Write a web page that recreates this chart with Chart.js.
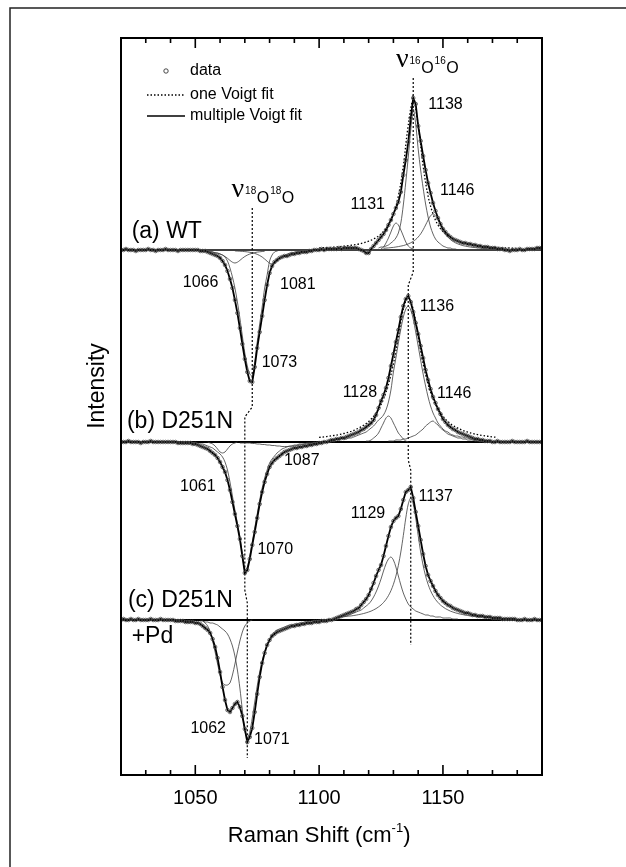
<!DOCTYPE html>
<html>
<head>
<meta charset="utf-8">
<title>Raman difference spectra, O2 isotopes</title>
<script src="https://cdn.jsdelivr.net/npm/chart.js@4.4.1/dist/chart.umd.min.js"></script>
<style>
  html, body { margin: 0; padding: 0; background: #fff; }
  canvas { display: block; }
</style>
</head>
<body>
<canvas id="ramanChart" width="626" height="867"></canvas>
<script>
// ------------------------------------------------------------------
//  Spectra (difference spectra, arbitrary intensity units)
//  sampled every 1 cm-1 from 1020 to 1190
// ------------------------------------------------------------------
const SHIFT_START = 1020;

const specWT = [
  0, 0, 1, 0, 0, 0, -1, 0, 0, 0,
  0, 1, 0, 0, -1, 0, 0, 0, 1, 0,
  0, 0, 0, -1, 0, 0, 0, 0, 0, 0,
  0, 0, -1, -1, -1, -2, -3, -4, -5, -6,
  -8, -11, -15, -21, -29, -38, -50, -63, -78, -94,
  -109, -122, -131, -132, -117, -98, -82, -66, -50, -35,
  -23, -16, -12, -10, -8, -7, -6, -6, -5, -4,
  -4, -3, -3, -2, -2, -2, -1, -1, 0, 0,
  0, 1, 0, 1, 1, 1, 1, 1, 2, 1,
  2, 2, 2, 2, 2, 2, 1, 0, -1, -3,
  -3, 1, 4, 7, 10, 13, 16, 20, 25, 30,
  36, 42, 48, 58, 75, 90, 108, 132, 152, 146,
  124, 109, 94, 80, 67, 57, 47, 39, 32, 26,
  21, 18, 15, 13, 11, 10, 9, 8, 7, 7,
  6, 6, 5, 5, 4, 4, 3, 3, 3, 2,
  2, 2, 1, 1, 1, 0, 0, -1, 0, 0,
  0, 1, 0, 0, 1, 1, 1, 1, 2, 2, 2
];

const specD251N = [
  0, 0, 0, 1, 0, 0, 0, 0, -1, 0,
  0, 0, 1, 0, 0, 0, 0, 0, 0, 0,
  0, 0, 0, -1, -1, -1, -1, -1, -1, -2,
  -2, -3, -4, -5, -6, -7, -9, -11, -13, -16,
  -20, -25, -30, -38, -48, -60, -72, -84, -97, -114,
  -131, -128, -117, -103, -90, -76, -62, -50, -40, -32,
  -25, -21, -18, -16, -14, -12, -10, -9, -8, -7,
  -6, -6, -5, -5, -4, -4, -3, -3, -2, -2,
  -1, -1, 0, 0, 1, 2, 2, 3, 3, 4,
  4, 5, 6, 7, 8, 9, 10, 12, 13, 15,
  17, 19, 22, 27, 34, 41, 47, 54, 64, 76,
  88, 100, 112, 125, 136, 143, 146, 140, 130, 119,
  108, 96, 84, 72, 62, 53, 45, 39, 33, 28,
  23, 20, 17, 15, 13, 12, 10, 9, 8, 7,
  6, 5, 4, 3, 3, 2, 2, 1, 1, 1,
  0, 0, 1, 0, 0, 0, 0, 0, 1, 0,
  0, 0, 0, 0, 1, 0, 0, 0, 0, 0, 0
];

const specD251NPd = [
  0, 1, 0, 0, 1, 0, 0, 1, 0, 0,
  0, 0, 1, 0, 0, 0, 1, 0, 0, 0,
  0, 0, -1, -1, -1, -1, -2, -2, -2, -2,
  -3, -3, -4, -6, -8, -10, -13, -19, -27, -38,
  -52, -67, -80, -90, -92, -88, -84, -82, -87, -96,
  -109, -122, -117, -108, -92, -74, -57, -43, -33, -25,
  -20, -16, -14, -12, -11, -10, -9, -8, -7, -6,
  -6, -5, -5, -4, -4, -3, -3, -3, -2, -2,
  -2, -1, -1, -1, 0, 0, 1, 2, 3, 4,
  5, 6, 7, 8, 9, 11, 12, 15, 18, 21,
  25, 31, 37, 44, 50, 55, 64, 74, 84, 93,
  99, 102, 104, 111, 120, 128, 130, 133, 122, 108,
  94, 80, 66, 54, 45, 39, 34, 29, 25, 22,
  19, 17, 15, 14, 12, 11, 10, 9, 8, 7,
  7, 6, 5, 5, 4, 4, 4, 3, 3, 3,
  2, 2, 2, 2, 1, 1, 1, 1, 1, 1,
  0, 0, 0, 1, 0, 0, 0, 1, 0, 0, 0
];

// vertical stacking of the three traces
const OFFSET_WT = 525;
const OFFSET_D251N = 333;
const OFFSET_PD = 155;

// single Voigt fits of the 16O16O band, sampled every 2 cm-1 from 1100
const oneVoigtWT = [2.1, 2.3, 2.6, 2.9, 3.3, 3.8, 4.4, 5.1, 6, 7.2, 8.8, 11, 14, 18.5, 25, 36, 54, 84, 125,
  150, 125, 84, 54, 36, 25, 18.5, 14, 11, 8.8, 7.2, 6, 5.1, 4.4, 3.8, 3.3, 2.9, 2.6, 2.3, 2.1, 1.9, 1.7];
const oneVoigtD251N = [4.6, 5.1, 5.75, 6.5, 7.4, 8.5, 9.9, 11.6, 13.9, 16.7, 20.5, 25.7, 32.9, 43, 57.7, 78.3, 105, 132.5,
  145, 132.5, 105, 78.3, 57.7, 43, 32.9, 25.7, 20.5, 16.7, 13.9, 11.6, 9.9, 8.5, 7.4, 6.5, 5.75, 5.1, 4.6];

// multiple Voigt components: first wavenumber, then 1 cm-1 samples
const wt1138 = { from: 1124, y: [2, 3, 3, 4, 5, 7, 9, 12, 17, 27, 45, 68, 93, 120, 141, 126, 101, 80, 62, 46, 33, 23, 16, 11, 8, 6, 4, 3, 2, 2, 1, 1, 0] };
const wt1131 = { from: 1125, y: [1, 3, 7, 12, 18, 24, 27, 25, 20, 14, 8, 4, 2, 1, 0] };
const wt1146 = { from: 1126, y: [1.7, 1.9, 2.1, 2.4, 2.6, 3, 3.4, 3.9, 4.4, 5.2, 6.1, 7.2, 8.7, 10.5, 13, 16.1, 20.2, 25, 30, 34.3,
  36, 34.3, 30, 25, 20.2, 16.1, 13, 10.5, 8.7, 7.2, 6.1, 5.2, 4.4, 3.9, 3.4, 3, 2.6, 2.4, 2.1, 1.9, 1.7, 1.6, 1.4, 1.3, 1.2, 1.1] };
const wt1073 = { from: 1052, y: [-1, -1, -1, -2, -2, -2, -3, -3, -4, -5, -7, -11, -18, -27, -38, -52, -68, -86, -103, -116,
  -124, -126, -112, -92, -74, -57, -38, -25, -11, -5, -2, -1, 0] };
const wt1066 = { from: 1054, y: [-1.3, -1.5, -1.8, -2.1, -2.6, -3.2, -4, -5.1, -6.5, -8.3, -10.4, -12.2, -13, -12.2, -10.4, -8.3,
  -6.5, -5.1, -4, -3.2, -2.6, -2.1, -1.8, -1.5, -1.3] };
const wt1081 = { from: 1066, y: [-0.9, -1.1, -1.2, -1.4, -1.6, -1.9, -2.3, -2.8, -3.4, -4.3, -5.5, -7, -9, -11.2, -13.2, -14,
  -13.2, -11.2, -9, -7, -5.5, -4.3, -3.4, -2.8, -2.3, -1.9, -1.6, -1.4, -1.2, -1.1, -0.9] };

const d251n1136 = { from: 1110, y: [3, 3, 4, 4, 5, 6, 7, 8, 9, 10, 12, 14, 16, 19, 22, 24, 27, 32, 40, 52,
  70, 84, 99, 113, 125, 133, 136, 132, 123, 110, 96, 82, 68, 56, 45, 36, 29, 24, 19, 16,
  13, 11, 10, 8, 7, 6, 6, 5, 5, 4, 4, 3, 3, 2, 2, 2, 1, 1, 1] };
const d251n1128 = { from: 1119, y: [1, 1, 2, 4, 6, 9, 14, 19, 24, 26, 24, 19, 14, 9, 6, 3, 1, 0] };
const d251n1146 = { from: 1128, y: [1, 1, 1, 2, 2, 2, 3, 3, 4, 5, 6, 7, 9, 11, 13, 16, 18, 20, 21, 19,
  17, 14, 12, 10, 8, 7, 6, 5, 4, 4, 3, 3, 2, 2, 2, 1, 1, 1, 1, 0] };
const d251n1070 = { from: 1045, y: [0, 0, -1, -1, -1, -1, -2, -2, -2, -3, -4, -5, -6, -8, -10, -12, -15, -20, -28, -40,
  -54, -68, -81, -95, -112, -128, -125, -114, -100, -86, -72, -58, -46, -36, -28, -21, -17, -14, -11, -9,
  -7, -6, -5, -4, -4, -3, -3, -2, -2, -2, -1, -1, -1, -1, 0] };
const d251n1061 = { from: 1055, y: [0, -1, -2, -4, -7, -10, -11, -10, -7, -4, -2, -1, 0] };
const d251n1087 = { from: 1068, y: [-1, -1, -1, -1, -1, -1.5, -1.5, -2, -2, -2.5, -2.5, -3, -3, -3.5, -3.5, -4, -4, -4.5,
  -4.5, -4.5, -4.5, -4, -4, -3.5, -3, -2.5, -2, -2, -1.5, -1.5, -1, -1, -1, -0.5, -0.5, 0] };

const pd1137 = { from: 1107, y: [2.7, 2.9, 3.1, 3.3, 3.6, 3.9, 4.1, 4.5, 4.9, 5.4, 5.9, 6.5, 7.2, 8, 8.9, 10.1, 11.4, 13.1, 15, 17.5,
  20.5, 24.4, 29.3, 35.7, 43.9, 54.6, 68, 84.5, 102, 116, 122, 116, 102, 84.5, 68, 54.6, 43.9, 35.7, 29.3, 24.4,
  20.5, 17.5, 15, 13.1, 11.4, 10.1, 8.9, 8, 7.2, 6.5, 5.9, 5.4, 4.9, 4.5, 4.1, 3.9, 3.6, 3.3, 3.1, 2.9, 2.7] };
const pd1129 = { from: 1108, y: [3, 3, 4, 4, 5, 6, 7, 8, 9, 10, 12, 14, 16, 19, 23, 28, 34, 41, 49, 56,
  61, 63, 60, 53, 44, 35, 27, 21, 16, 13, 11, 9, 8, 7, 6, 5, 5, 4, 4, 3, 3, 3, 2, 2, 2, 2, 1, 1, 1] };
const pd1062 = { from: 1053, y: [-1, -3, -6, -12, -21, -32, -44, -55, -63, -65, -65, -63, -55, -44, -32, -21, -12, -6, -3, -1, 0] };
const pd1071 = { from: 1052, y: [-1, -1, -2, -2, -3, -3, -4, -5, -7, -9, -11, -14, -19, -26, -36, -50, -68, -90, -110, -118,
  -112, -98, -82, -66, -52, -41, -32, -25, -19, -15, -12, -10, -9, -8, -7, -6, -5, -5, -4, -4,
  -3, -3, -2, -2, -2, -1, -1, -1, 0] };

// guide lines through the band centres
const nu18Shift = [1073, 1073, 1070, 1070, 1071, 1071];
const nu18Level = [567, 368, 358, 185, 172, 17];
const nu16Shift = [1138, 1138, 1136, 1136, 1137, 1137];
const nu16Level = [697, 503, 490, 315, 305, 130];

// axis ticks
const majorTicks = [1050, 1100, 1150];
const minorTicks = [1030, 1040, 1060, 1070, 1080, 1090, 1110, 1120, 1130, 1140, 1160, 1170, 1180];

// peak labels: text, shift, level, alignment
const noteText  = ['1138', '1131', '1146', '1066', '1081', '1073', '(a) WT',
  '1136', '1128', '1146', '(b) D251N', '1087', '1061', '1070',
  '1137', '1129', '(c) D251N', '+Pd', '1062', '1071'];
const noteShift = [1144.1, 1126.6, 1148.8, 1059.3, 1084.2, 1076.8, 1024.3,
  1140.6, 1123.4, 1147.6, 1022.4, 1085.8, 1058.2, 1075.1,
  1140.1, 1126.7, 1022.8, 1024.3, 1062.4, 1073.7];
const noteLevel = [670, 570, 584, 492, 490, 412, 543,
  468, 382, 381, 353, 314, 288, 225,
  278, 261, 174, 138, 46, 35];
const noteAlign = ['left', 'right', 'left', 'right', 'left', 'left', 'left',
  'left', 'right', 'left', 'left', 'left', 'right', 'left',
  'left', 'right', 'left', 'left', 'right', 'left'];

const SANS = '"Liberation Sans", Arial, Helvetica, sans-serif';

// ------------------------------------------------------------------
//  helpers
// ------------------------------------------------------------------
function sampled(from, values, offset, step) {
  step = step || 1;
  return values.map((v, i) => ({ x: from + i * step, y: offset + v }));
}

function component(c, offset) {
  return {
    data: sampled(c.from, c.y, offset),
    borderColor: '#3c3c3c',
    borderWidth: 0.8,
    pointRadius: 0,
    tension: 0.3,
    order: 4
  };
}

function baseline(offset, width) {
  return {
    data: [{ x: 1020, y: offset }, { x: 1190, y: offset }],
    borderColor: '#000',
    borderWidth: width,
    pointRadius: 0,
    order: 6
  };
}

function guide(shifts, levels) {
  return {
    data: shifts.map((s, i) => ({ x: s, y: levels[i] })),
    borderColor: '#000',
    borderWidth: 1.2,
    borderDash: [2, 2],
    pointRadius: 0,
    order: 5
  };
}

function oneVoigt(values, offset) {
  return {
    data: sampled(1100, values, offset, 2),
    borderColor: '#000',
    borderWidth: 1.3,
    borderDash: [1.5, 2],
    pointRadius: 0,
    tension: 0.35,
    order: 3
  };
}

function fitLine(values, offset) {
  return {
    data: sampled(SHIFT_START, values, offset),
    borderColor: '#000',
    borderWidth: 1.8,
    pointRadius: 0,
    order: 2
  };
}

function dataPoints(values, offset) {
  return {
    data: sampled(SHIFT_START, values, offset),
    showLine: false,
    pointRadius: 1.8,
    pointStyle: 'circle',
    pointBorderWidth: 0.8,
    pointBorderColor: '#4a4a4a',
    pointBackgroundColor: 'rgba(255,255,255,0)',
    order: 1
  };
}

function drawNu(ctx, x, y, iso) {
  ctx.textAlign = 'left';
  ctx.textBaseline = 'alphabetic';
  ctx.font = '28px "Liberation Serif", "DejaVu Serif", serif';
  ctx.fillText('\u03BD', x, y);
  x += ctx.measureText('\u03BD').width + 1;
  for (let k = 0; k < 2; k++) {
    ctx.font = '10px ' + SANS;
    ctx.fillText(iso, x, y - 3);
    x += ctx.measureText(iso).width + 0.5;
    ctx.font = '16px ' + SANS;
    ctx.fillText('O', x, y + 6);
    x += ctx.measureText('O').width + 1;
  }
}

// frame, inward ticks, labels and the small legend
const ramanDecor = {
  id: 'ramanDecor',
  beforeDraw(chart) {
    const ctx = chart.ctx;
    ctx.save();
    ctx.fillStyle = '#fff';
    ctx.fillRect(0, 0, chart.width, chart.height);
    // page border (top and left)
    ctx.strokeStyle = '#222';
    ctx.lineWidth = 1.5;
    ctx.beginPath();
    ctx.moveTo(10, chart.height);
    ctx.lineTo(10, 8);
    ctx.lineTo(chart.width, 8);
    ctx.stroke();
    ctx.restore();
  },
  afterDatasetsDraw(chart) {
    const { ctx, chartArea: a, scales: { x, y } } = chart;
    ctx.save();

    ctx.strokeStyle = '#000';
    ctx.lineWidth = 2;
    ctx.strokeRect(a.left, a.top, a.right - a.left, a.bottom - a.top);

    ctx.lineWidth = 1.6;
    ctx.beginPath();
    minorTicks.forEach(v => {
      const px = x.getPixelForValue(v);
      ctx.moveTo(px, a.bottom); ctx.lineTo(px, a.bottom - 5);
      ctx.moveTo(px, a.top); ctx.lineTo(px, a.top + 5);
    });
    majorTicks.forEach(v => {
      const px = x.getPixelForValue(v);
      ctx.moveTo(px, a.bottom); ctx.lineTo(px, a.bottom - 10);
      ctx.moveTo(px, a.top); ctx.lineTo(px, a.top + 10);
    });
    ctx.stroke();

    // peak and trace labels
    ctx.fillStyle = '#000';
    ctx.textBaseline = 'middle';
    noteText.forEach((t, i) => {
      const big = t.charAt(0) === '(' || t.charAt(0) === '+';
      ctx.font = (big ? '23px ' : '16px ') + SANS;
      ctx.textAlign = noteAlign[i];
      ctx.fillText(t, x.getPixelForValue(noteShift[i]), y.getPixelForValue(noteLevel[i]));
    });

    // band assignments
    drawNu(ctx, x.getPixelForValue(1131.0), y.getPixelForValue(708), '16');
    drawNu(ctx, x.getPixelForValue(1064.6), y.getPixelForValue(578), '18');

    // legend
    const lx = a.left + 26, tx = a.left + 69;
    ctx.strokeStyle = '#333';
    ctx.lineWidth = 0.9;
    ctx.beginPath();
    ctx.arc(a.left + 45, a.top + 33, 2.2, 0, Math.PI * 2);
    ctx.stroke();
    ctx.strokeStyle = '#000';
    ctx.lineWidth = 1.3;
    ctx.setLineDash([1.5, 2]);
    ctx.beginPath();
    ctx.moveTo(lx, a.top + 57); ctx.lineTo(lx + 38, a.top + 57);
    ctx.stroke();
    ctx.setLineDash([]);
    ctx.lineWidth = 1.5;
    ctx.beginPath();
    ctx.moveTo(lx, a.top + 78); ctx.lineTo(lx + 38, a.top + 78);
    ctx.stroke();
    ctx.font = '16px ' + SANS;
    ctx.textAlign = 'left';
    ctx.textBaseline = 'middle';
    ctx.fillText('data', tx, a.top + 33);
    ctx.fillText('one Voigt fit', tx, a.top + 57);
    ctx.fillText('multiple Voigt fit', tx, a.top + 78);

    // y axis title
    ctx.save();
    ctx.translate(98, 386);
    ctx.rotate(-Math.PI / 2);
    ctx.font = '23px ' + SANS;
    ctx.textAlign = 'center';
    ctx.fillText('Intensity', 0, 0);
    ctx.restore();

    // x axis title with superscript
    const head = 'Raman Shift (cm', sup = '-1', tail = ')';
    ctx.font = '22px ' + SANS;
    const wHead = ctx.measureText(head).width, wTail = ctx.measureText(tail).width;
    ctx.font = '13px ' + SANS;
    const wSup = ctx.measureText(sup).width;
    let sx = x.getPixelForValue(1100) - (wHead + wSup + wTail) / 2;
    ctx.textAlign = 'left';
    ctx.textBaseline = 'alphabetic';
    ctx.font = '22px ' + SANS;
    ctx.fillText(head, sx, 842);
    sx += wHead;
    ctx.font = '13px ' + SANS;
    ctx.fillText(sup, sx, 832);
    sx += wSup;
    ctx.font = '22px ' + SANS;
    ctx.fillText(tail, sx, 842);

    ctx.restore();
  }
};

// ------------------------------------------------------------------
//  chart
// ------------------------------------------------------------------
const ctx = document.getElementById('ramanChart').getContext('2d');

new Chart(ctx, {
  type: 'line',
  data: {
    datasets: [
      baseline(OFFSET_WT, 1.5),
      baseline(OFFSET_D251N, 2),
      baseline(OFFSET_PD, 2.2),
      guide(nu18Shift, nu18Level),
      guide(nu16Shift, nu16Level),
      component(wt1138, OFFSET_WT),
      component(wt1131, OFFSET_WT),
      component(wt1146, OFFSET_WT),
      component(wt1073, OFFSET_WT),
      component(wt1066, OFFSET_WT),
      component(wt1081, OFFSET_WT),
      component(d251n1136, OFFSET_D251N),
      component(d251n1128, OFFSET_D251N),
      component(d251n1146, OFFSET_D251N),
      component(d251n1070, OFFSET_D251N),
      component(d251n1061, OFFSET_D251N),
      component(d251n1087, OFFSET_D251N),
      component(pd1137, OFFSET_PD),
      component(pd1129, OFFSET_PD),
      component(pd1062, OFFSET_PD),
      component(pd1071, OFFSET_PD),
      oneVoigt(oneVoigtWT, OFFSET_WT),
      oneVoigt(oneVoigtD251N, OFFSET_D251N),
      fitLine(specWT, OFFSET_WT),
      fitLine(specD251N, OFFSET_D251N),
      fitLine(specD251NPd, OFFSET_PD),
      dataPoints(specWT, OFFSET_WT),
      dataPoints(specD251N, OFFSET_D251N),
      dataPoints(specD251NPd, OFFSET_PD)
    ]
  },
  options: {
    responsive: false,
    animation: false,
    devicePixelRatio: 1,
    layout: { padding: { left: 121, right: 84, top: 38, bottom: 0 } },
    plugins: {
      legend: { display: false },
      tooltip: { enabled: false }
    },
    scales: {
      x: {
        type: 'linear',
        min: 1020,
        max: 1190,
        grid: { display: false, drawTicks: false },
        border: { display: false },
        afterBuildTicks: scale => { scale.ticks = majorTicks.map(v => ({ value: v })); },
        afterFit: scale => { scale.height = 92; },
        ticks: {
          padding: 11,
          color: '#000',
          maxRotation: 0,
          font: { family: SANS, size: 20 },
          callback: v => String(v)
        }
      },
      y: {
        display: false,
        min: 0,
        max: 737
      }
    }
  },
  plugins: [ramanDecor]
});
</script>
</body>
</html>
